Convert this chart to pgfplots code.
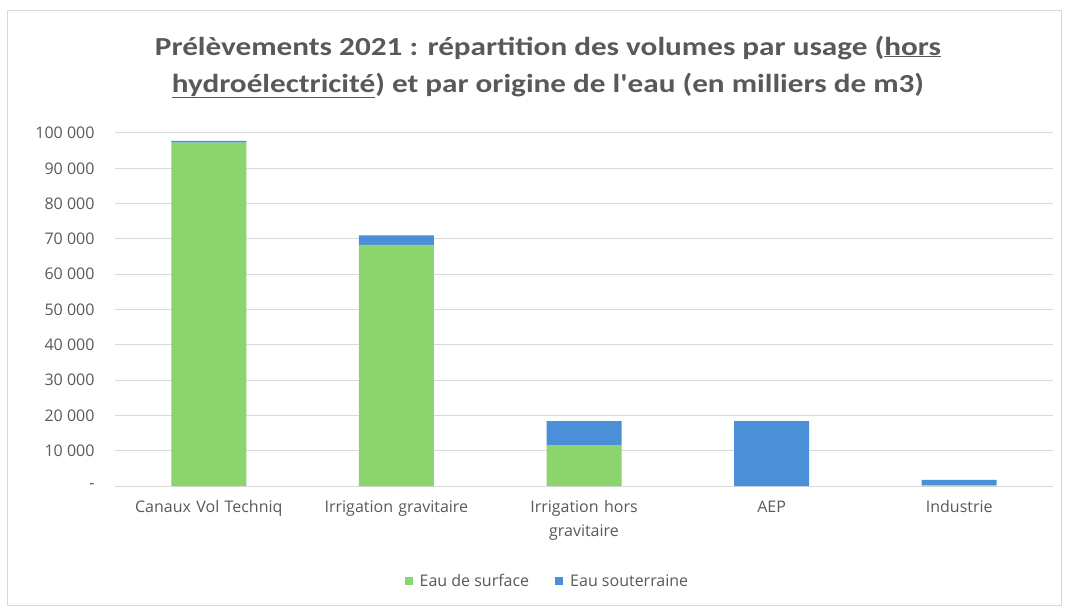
\documentclass[border=0pt]{standalone}
\usepackage{fontspec}
\setmainfont{Open Sans}
\newfontfamily\titlefont[FakeStretch=1.2]{Carlito}
\usepackage{pgfplots}
\pgfplotsset{compat=1.18}
\definecolor{cgreen}{HTML}{8BD46E}
\definecolor{cblue}{HTML}{4A8FD7}
\definecolor{txt}{HTML}{595959}
\definecolor{gridc}{HTML}{D9D9D9}
\begin{document}
\begin{tikzpicture}[x=1pt,y=1pt]
\path[use as bounding box] (0pt,0pt) rectangle (1067pt,610pt);
\draw[color=gridc, line width=1pt] (7.5pt,5pt) rectangle (1061pt,599pt);
\node[font=\titlefont\bfseries\fontsize{26}{37}\selectfont, text=txt, align=center] at (548pt,543pt) {Prélèvements 2021 : répartition des volumes par usage (\underline{hors}\\\underline{hydroélectricité}) et par origine de l'eau (en milliers de m3)};
\begin{axis}[at={(115pt,124pt)}, anchor=south west, scale only axis,
  width=938pt, height=353pt,
  ybar stacked, bar width=75pt,
  xmin=-0.5, xmax=4.5, ymin=0, ymax=100000,
  xtick={0,1,2,3,4},
  xticklabels={Canaux Vol Techniq, Irrigation gravitaire, {Irrigation hors\\gravitaire}, AEP, Industrie},
  xticklabel style={align=center, text width=180pt, font=\fontsize{16}{24}\selectfont, text=txt, yshift=-11pt},
  ytick={0,10000,20000,30000,40000,50000,60000,70000,80000,90000,100000},
  yticklabels={-\hspace{12pt},10 000,20 000,30 000,40 000,50 000,60 000,70 000,80 000,90 000,100 000},
  yticklabel style={font=\fontsize{16}{18}\selectfont, text=txt, xshift=-17pt},
  scaled y ticks=false,
  ymajorgrids, grid style={gridc, line width=1pt},
  axis line style={draw=none},
  major tick length=0pt,
  legend style={at={(0.461,-0.27)}, anchor=center, draw=none, legend columns=2,
    font=\fontsize{16}{18}\selectfont, text=txt,
    /tikz/every even column/.append style={column sep=24pt}},
  legend image code/.code={\fill[#1] (0pt,-4pt) rectangle (8pt,4pt);},
]
\addplot[fill=cgreen, draw=none] coordinates {(0,97300) (1,68300) (2,11600) (3,0) (4,200)};
\addplot[fill=cblue, draw=none] coordinates {(0,500) (1,2700) (2,6800) (3,18400) (4,1500)};
\legend{\hspace{5pt}Eau de surface, \hspace{5pt}Eau souterraine}
\end{axis}
\end{tikzpicture}
\end{document}
